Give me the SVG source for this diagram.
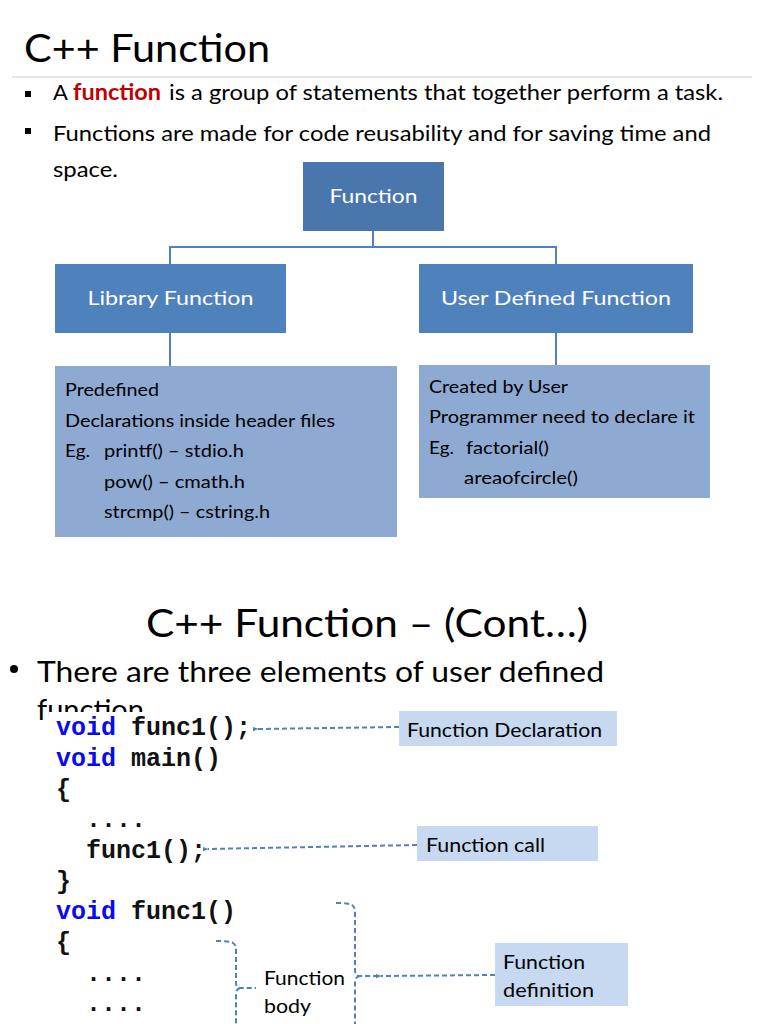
<svg xmlns="http://www.w3.org/2000/svg" width="768" height="1024" viewBox="0 0 768 1024">
<defs>
<style>
text{font-family:Lato,"Open Sans","Liberation Sans",sans-serif;fill:#000}
.t1{font-size:39px}
.b{font-size:22px}
.nd{font-size:19.5px;fill:#fff}
.lb{font-size:17.5px}
.lab{font-size:18.5px}
.code{font-family:"Liberation Mono","DejaVu Sans Mono",monospace;font-size:25px;font-weight:bold;fill:#111}
.kw{fill:#0a0aee}
.conn{stroke:#4f81bd;stroke-width:2;fill:none}
.dash{stroke:#4f81bd;stroke-width:2;fill:none;stroke-dasharray:5 3}
</style>
<marker id="ah" viewBox="0 0 8 8" refX="1" refY="4" markerWidth="6" markerHeight="6" orient="auto-start-reverse" markerUnits="userSpaceOnUse">
<path d="M8,1 L0,4 L8,7 Z" fill="#4f81bd"/>
</marker>
</defs>
<rect width="768" height="1024" fill="#fff"/>

<g id="slide1-text">
<text class="t1" x="24" y="62" textLength="246" lengthAdjust="spacingAndGlyphs">C++ Function</text>
<line x1="12" y1="77" x2="752" y2="77" stroke="#e6e6e6" stroke-width="2"/>
<rect x="25" y="91" width="6" height="6" fill="#000"/>
<text class="b" x="53" y="100">A</text>
<text class="b" x="73" y="100" textLength="88" lengthAdjust="spacingAndGlyphs" style="fill:#c00000;font-weight:bold">function</text>
<text class="b" x="169" y="100" textLength="554" lengthAdjust="spacingAndGlyphs">is a group of statements that together perform a task.</text>
<rect x="25" y="128" width="6" height="6" fill="#000"/>
<text class="b" x="53" y="141" textLength="658" lengthAdjust="spacingAndGlyphs">Functions are made for code reusability and for saving time and</text>
<text class="b" x="53" y="177" textLength="65" lengthAdjust="spacingAndGlyphs">space.</text>
</g>

<g id="connectors-tree">
<path class="conn" d="M373,231 V247 M170,264 V247 H556 V264"/>
<line class="conn" x1="170" y1="333" x2="170" y2="366"/>
<line class="conn" x1="556" y1="333" x2="556" y2="365"/>
</g>

<g id="node-function">
<rect x="303" y="162" width="141" height="69" fill="#4a76ae"/>
<text class="nd" x="373.5" y="203" text-anchor="middle" textLength="88" lengthAdjust="spacingAndGlyphs">Function</text>
</g>
<g id="node-library">
<rect x="55" y="264" width="231" height="69" fill="#4f81bd"/>
<text class="nd" x="170.5" y="305" text-anchor="middle" textLength="166" lengthAdjust="spacingAndGlyphs">Library Function</text>
</g>
<g id="node-user">
<rect x="419" y="264" width="274" height="69" fill="#4f81bd"/>
<text class="nd" x="556" y="305" text-anchor="middle" textLength="230" lengthAdjust="spacingAndGlyphs">User Defined Function</text>
</g>
<g id="node-library-detail">
<rect x="55" y="366" width="342" height="171" fill="#8eaad2"/>
<text class="lb" x="65" y="396" textLength="94" lengthAdjust="spacingAndGlyphs">Predefined</text>
<text class="lb" x="65" y="427" textLength="270" lengthAdjust="spacingAndGlyphs">Declarations inside header files</text>
<text class="lb" x="65" y="457" textLength="25" lengthAdjust="spacingAndGlyphs">Eg.</text>
<text class="lb" x="104" y="457" textLength="140" lengthAdjust="spacingAndGlyphs">printf() – stdio.h</text>
<text class="lb" x="104" y="488" textLength="141" lengthAdjust="spacingAndGlyphs">pow() – cmath.h</text>
<text class="lb" x="104" y="518" textLength="166" lengthAdjust="spacingAndGlyphs">strcmp() – cstring.h</text>
</g>
<g id="node-user-detail">
<rect x="419" y="365" width="291" height="133" fill="#8eaad2"/>
<text class="lb" x="429" y="393" textLength="139" lengthAdjust="spacingAndGlyphs">Created by User</text>
<text class="lb" x="429" y="423" textLength="266" lengthAdjust="spacingAndGlyphs">Programmer need to declare it</text>
<text class="lb" x="429" y="454" textLength="25" lengthAdjust="spacingAndGlyphs">Eg.</text>
<text class="lb" x="466" y="454" textLength="83" lengthAdjust="spacingAndGlyphs">factorial()</text>
<text class="lb" x="464" y="484" textLength="114" lengthAdjust="spacingAndGlyphs">areaofcircle()</text>
</g>

<g id="slide2-text">
<text class="t1" x="146" y="637" style="font-size:38px" textLength="442" lengthAdjust="spacingAndGlyphs">C++ Function – (Cont…)</text>
<circle cx="14" cy="669" r="4" fill="#000"/>
<text x="37" y="682" style="font-size:28px" textLength="567" lengthAdjust="spacingAndGlyphs">There are three elements of user defined</text>
<text x="37" y="720" style="font-size:28px" textLength="107" lengthAdjust="spacingAndGlyphs">function</text>
<rect x="49" y="712" width="140" height="16" fill="#fff"/>
</g>

<g id="code">
<text class="code" x="56" y="735"><tspan class="kw">void</tspan> func1();</text>
<text class="code" x="56" y="766"><tspan class="kw">void</tspan> main()</text>
<text class="code" x="56" y="797">{</text>
<text class="code" x="86" y="827">....</text>
<text class="code" x="86" y="858">func1();</text>
<text class="code" x="56" y="889">}</text>
<text class="code" x="56" y="919"><tspan class="kw">void</tspan> func1()</text>
<text class="code" x="56" y="950">{</text>
<text class="code" x="86" y="981">....</text>
<text class="code" x="86" y="1011">....</text>
</g>

<g id="connectors-code">
<line class="dash" x1="399" y1="727" x2="258" y2="729" marker-end="url(#ah)"/>
<line class="dash" x1="417" y1="845" x2="208" y2="849" marker-end="url(#ah)"/>
<path class="dash" d="M216,941 Q230,941 233,943 Q236,945 236,950 V983 Q236,988 240,988 H256 M240,988 Q236,989 236,994 V1024"/>
<path class="dash" d="M336,903 Q349,903 352,905 Q355,907 355,912 V970 Q355,976 360,976 H378 M360,976 Q355,977 355,982 V1024"/>
<line class="dash" x1="495" y1="975" x2="381" y2="976" marker-end="url(#ah)"/>
</g>

<g id="label-declaration">
<rect x="399" y="711" width="218" height="35" fill="#c6d9f1"/>
<text class="lab" x="407" y="737" textLength="195" lengthAdjust="spacingAndGlyphs">Function Declaration</text>
</g>
<g id="label-call">
<rect x="417" y="826" width="181" height="35" fill="#c6d9f1"/>
<text class="lab" x="426" y="852" textLength="119" lengthAdjust="spacingAndGlyphs">Function call</text>
</g>
<g id="label-definition">
<rect x="495" y="943" width="133" height="63" fill="#c6d9f1"/>
<text class="lab" x="503" y="969" textLength="82" lengthAdjust="spacingAndGlyphs">Function</text>
<text class="lab" x="503" y="997" textLength="91" lengthAdjust="spacingAndGlyphs">definition</text>
</g>
<g id="label-body">
<text class="lab" x="264" y="985" textLength="81" lengthAdjust="spacingAndGlyphs">Function</text>
<text class="lab" x="264" y="1013" textLength="47" lengthAdjust="spacingAndGlyphs">body</text>
</g>
</svg>
